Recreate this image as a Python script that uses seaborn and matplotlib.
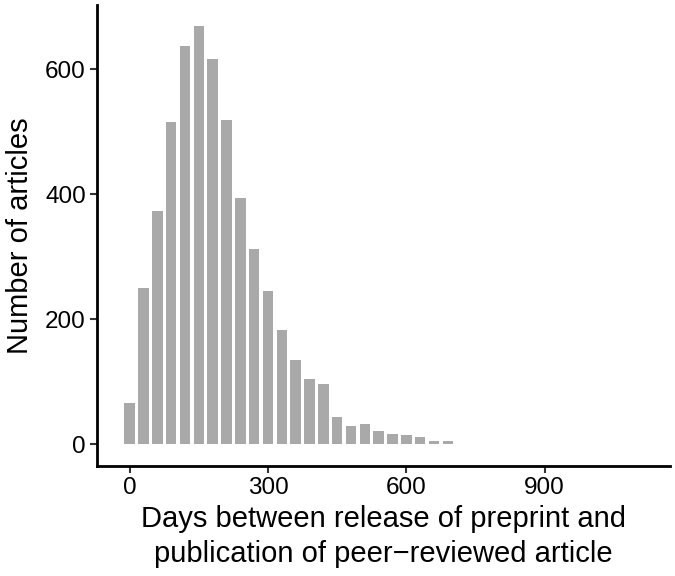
import matplotlib
matplotlib.use("Agg")
import matplotlib.pyplot as plt
import seaborn as sns

# bin centres (days) and counts per 30-day bin
days = [0, 30, 60, 90, 120, 150, 180, 210, 240, 270, 300, 330,
        360, 390, 420, 450, 480, 510, 540, 570, 600, 630, 660, 690]
counts = [66, 250, 374, 515, 637, 669, 616, 519, 394, 312, 246, 183,
          135, 105, 96, 44, 29, 32, 22, 16, 15, 11, 6, 6]
x_ticks = [0, 300, 600, 900]
y_ticks = [0, 200, 400, 600]

sns.set_theme(style="ticks")
plt.rcParams["font.family"] = ["Liberation Sans", "DejaVu Sans"]

fig = plt.figure(figsize=(6.75, 5.76), dpi=100)
ax = fig.add_axes([97 / 675, 110 / 576, 573 / 675, 461 / 576])

sns.histplot(x=days, weights=counts, binwidth=30, binrange=(-15, 705),
             shrink=0.76, color="#A9A9A9", alpha=1, linewidth=0, ax=ax)

ax.set_xlim(-71, 1172)
ax.set_ylim(-34.7, 703)
ax.set_xticks(x_ticks)
ax.set_yticks(y_ticks)
ax.tick_params(axis="both", labelsize=17.5, length=5, width=1.5,
               color="#333333", labelcolor="black", pad=3)
for side in ["left", "bottom"]:
    ax.spines[side].set_linewidth(2)
    ax.spines[side].set_color("black")
sns.despine(ax=ax)

ax.set_xlabel("Days between release of preprint and\npublication of peer\u2212reviewed article",
              fontsize=21, labelpad=4, linespacing=1.35, color="black")
ax.set_ylabel("Number of articles", fontsize=21, labelpad=8, color="black")

fig.savefig("out.png", dpi=100)
